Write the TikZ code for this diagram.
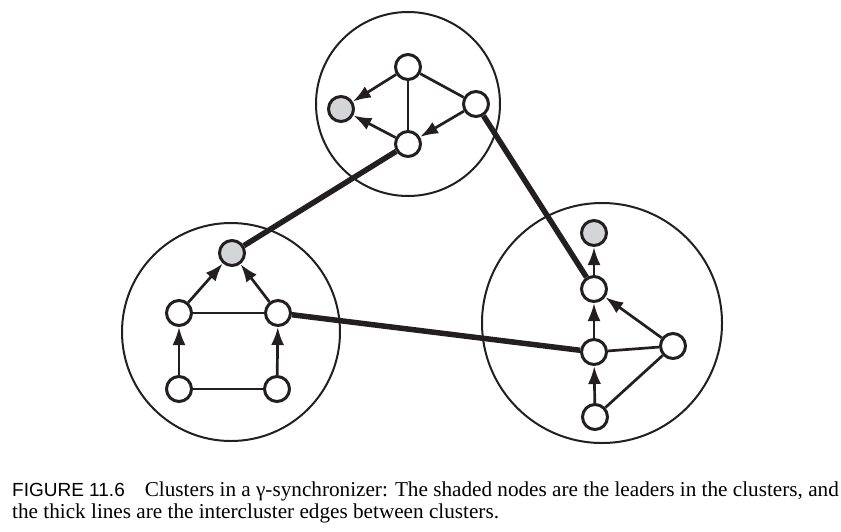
\documentclass[tikz,border=0pt]{standalone}
\usepackage{fontspec}
\setmainfont{Liberation Serif}
\setsansfont{Liberation Sans}
\usetikzlibrary{arrows.meta,positioning}
\definecolor{leaderGray}{HTML}{D4D5D7}
\definecolor{ink}{HTML}{231F20}

\begin{document}
\begin{tikzpicture}[x=1pt,y=-1pt,
  cluster/.style={circle,draw=ink,line width=2pt,inner sep=0pt},
  vtx/.style={circle,draw=ink,fill=white,line width=3pt,minimum size=25pt,inner sep=0pt},
  lead/.style={vtx,fill=leaderGray},
  arr/.style={-{Latex[length=18pt,width=13pt]},line width=2.7pt,color=ink},
  link/.style={line width=2.7pt,color=ink},
  inter/.style={line width=5.5pt,color=ink},
  capt/.style={font=\fontsize{21.2}{22}\selectfont,align=left,anchor=base west,inner sep=0pt}
]
  \useasboundingbox (0,0) rectangle (841,531);
  \node[cluster,minimum size=184pt] (topC) at (408,104) {};
  \node[cluster,minimum size=218pt] (leftC) at (231,332) {};
  \node[cluster,minimum size=240pt] (rightC) at (602,323) {};
  \node[vtx] (tTop) at (408,67) {};
  \node[lead] (tLead) at (341,109) {};
  \node[vtx] (tRight) at (476,104) {};
  \node[vtx] (tBot) at (408,144) {};
  \node[lead] (lLead) at (232,253) {};
  \node[vtx] (lMidL) at (179,313) {};
  \node[vtx] (lMidR) at (278,313) {};
  \node[vtx] (lBotL) at (179,389) {};
  \node[vtx] (lBotR) at (277,389) {};
  \node[lead] (rLead) at (594,233) {};
  \node[vtx] (rUp) at (594,289) {};
  \node[vtx] (rMid) at (594,352) {};
  \node[vtx] (rSide) at (673,346) {};
  \node[vtx] (rBot) at (595,417) {};
  \draw[arr] (tTop) -- (tLead);
  \draw[arr] (tBot) -- (tLead);
  \draw[arr] (tRight) -- (tBot);
  \draw[link] (tTop) -- (tBot);
  \draw[link] (tTop) -- (tRight);
  \draw[arr] (lMidL) -- (lLead);
  \draw[arr] (lMidR) -- (lLead);
  \draw[arr] (lBotL) -- (lMidL);
  \draw[arr] (lBotR) -- (lMidR);
  \draw[link] (lMidL) -- (lMidR);
  \draw[link] (lBotL) -- (lBotR);
  \draw[arr] (rUp) -- (rLead);
  \draw[arr] (rMid) -- (rUp);
  \draw[arr] (rSide) -- (rUp);
  \draw[arr] (rBot) -- (rMid);
  \draw[link] (rMid) -- (rSide);
  \draw[link] (rBot) -- (rSide);
  \draw[inter] (tBot) -- (lLead);
  \draw[inter] (tRight) -- (rUp);
  \draw[inter] (lMidR) -- (rMid);
  \node[capt] (capA) at (12,496) {{\sffamily\fontsize{19}{22}\selectfont FIGURE 11.6}\hspace{20pt}Clusters in a γ-synchronizer: The shaded nodes are the leaders in the clusters, and};
  \node[capt] (capB) at (12,518) {the thick lines are the intercluster edges between clusters.};
\end{tikzpicture}
\end{document}
